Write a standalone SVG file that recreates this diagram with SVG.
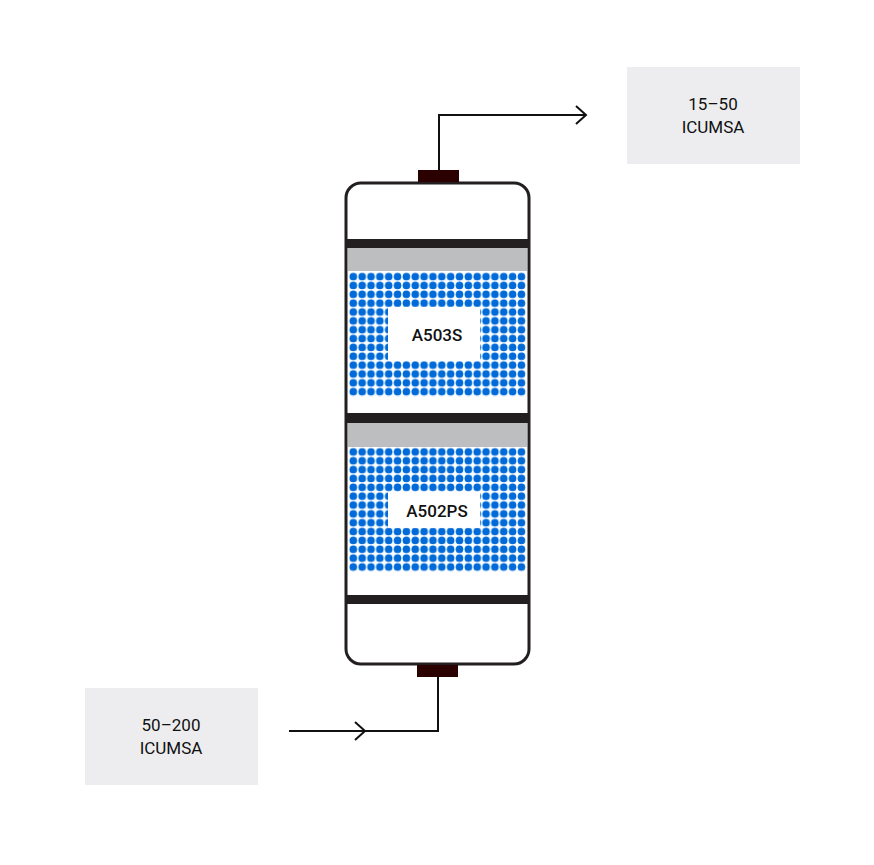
<svg xmlns="http://www.w3.org/2000/svg" width="874" height="865" viewBox="0 0 874 865">
<defs>
<style>
.box{fill:#ededef}
.lbl{font-family:Roboto,"Liberation Sans",sans-serif;font-size:17px;fill:#111;text-anchor:middle}
.wire{fill:none;stroke:#111;stroke-width:2}
.bar{fill:#231f20}
.gray{fill:#bdbebf}
.cap{fill:#2a0000}
</style>
<pattern id="dots" x="348.9" y="272.3" width="8.85" height="8.85" patternUnits="userSpaceOnUse">
<circle cx="4.4" cy="4.4" r="3.8" fill="#006ad8"/>
</pattern>
<pattern id="dots2" x="348.9" y="447.6" width="8.85" height="8.85" patternUnits="userSpaceOnUse">
<circle cx="4.4" cy="4.4" r="3.8" fill="#006ad8"/>
</pattern>
</defs>
<g id="in-box"><rect class="box" x="85" y="688" width="173" height="97"/><text class="lbl" x="171" y="731">50–200</text><text class="lbl" x="171" y="754">ICUMSA</text></g>
<g id="out-box"><rect class="box" x="627" y="67" width="173" height="97"/><text class="lbl" x="713" y="110">15–50</text><text class="lbl" x="713" y="133">ICUMSA</text></g>
<g id="column">
<rect x="346" y="183" width="183" height="481" rx="15" fill="#fff" stroke="#231f20" stroke-width="3"/>
<rect class="bar" x="346" y="239" width="183" height="9"/>
<rect class="gray" x="348" y="248" width="179" height="23"/>
<rect fill="url(#dots)" x="348.9" y="272.3" width="177" height="124"/>
<rect fill="#fff" x="388" y="307" width="92" height="54"/>
<rect class="bar" x="346" y="413" width="183" height="10"/>
<rect class="gray" x="348" y="423" width="179" height="24"/>
<rect fill="url(#dots2)" x="348.9" y="447.6" width="177" height="124"/>
<rect fill="#fff" x="388" y="491.9" width="92" height="36"/>
<rect class="bar" x="346" y="595" width="183" height="9"/>
<text class="lbl" x="437" y="341" font-weight="500" font-size="18">A503S</text>
<text class="lbl" x="437" y="517" font-weight="500" font-size="18">A502PS</text>
</g>
<g id="caps"><rect class="cap" x="418" y="170" width="41" height="12"/><rect class="cap" x="417" y="665" width="41" height="12"/></g>
<g id="connectors">
<path class="wire" d="M439 170V115H586"/>
<path class="wire" d="M576 106L586 115L576 124"/>
<path class="wire" d="M438 677V731H289"/>
<path class="wire" d="M355 722L365 731L355 740"/>
</g>
</svg>
